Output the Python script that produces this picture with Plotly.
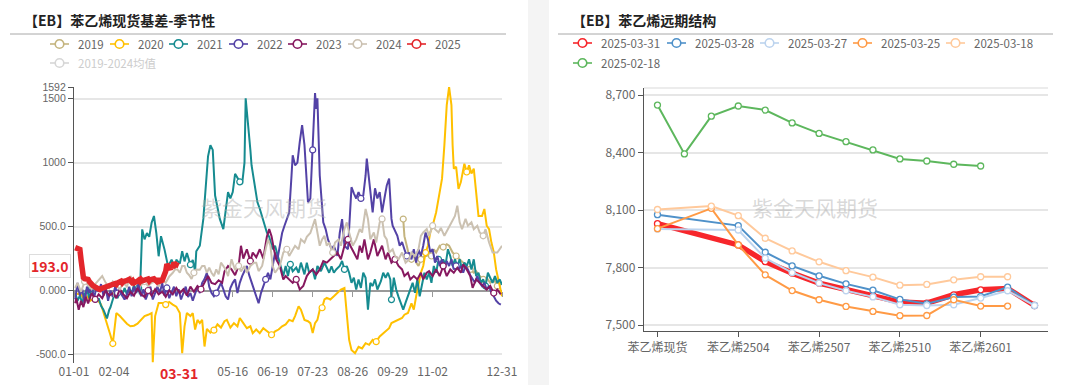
import pandas as pd
import plotly.graph_objects as go

# ----------------------------------------------------------------------------
# DATA  (left: styrene spot basis by season, (day-of-year offset, basis))
# ----------------------------------------------------------------------------
season_2019 = [(280, 559), (281, 425), (283, 350), (285, 270), (287, 244), (289, 297), (291, 218),
               (293, 192), (295, 244), (298, 270), (300, 270), (302, 297), (304, 270), (306, 323),
               (308, 297), (311, 350), (314, 340), (317, 362), (319, 350), (322, 297), (325, 270),
               (328, 244), (331, 218), (334, 192), (337, 165), (340, 139), (342, 152), (345, 113),
               (348, 87), (351, 100), (354, 60), (357, 87), (360, 35), (363, 50)]

season_2020 = [(2, -30), (5, -18), (8, -60), (11, -45), (14, -80), (17, -60), (20, -73), (23, -110),
               (26, -200), (28, -255), (31, -350), (33, -415), (35, -250), (36, -176), (39, -200),
               (42, -230), (45, -260), (48, -280), (51, -275), (54, -260), (57, -230), (60, -200),
               (63, -190), (66, -176), (67, -560), (69, -200), (72, -97), (75, -97), (78, -110),
               (81, -90), (84, -110), (87, -126), (90, -176), (92, -491), (94, -280), (96, -176),
               (99, -200), (101, -176), (103, -305), (105, -230), (107, -255), (109, -230),
               (111, -438), (113, -300), (116, -330), (119, -310), (122, -265), (125, -290),
               (128, -240), (130, -230), (133, -290), (136, -255), (139, -280), (141, -215),
               (144, -255), (147, -295), (150, -280), (152, -333), (155, -305), (158, -333),
               (161, -295), (164, -320), (168, -346), (171, -320), (174, -305), (177, -280),
               (180, -265), (183, -230), (186, -240), (188, -200), (191, -123), (193, -150),
               (196, -230), (199, -240), (201, -255), (203, -333), (205, -255), (207, -230),
               (209, -150), (211, -135), (213, -70), (215, -58), (218, -70), (221, -45), (224, -18),
               (227, 8), (230, 20), (232, -176), (234, -386), (236, -465), (239, -490), (242, -440),
               (245, -453), (248, -412), (251, -425), (254, -386), (257, -400), (260, -360),
               (263, -333), (266, -305), (268, -295), (270, -255), (273, -240), (276, -228),
               (279, -215), (281, -189), (284, -176), (287, -100), (289, -150), (291, -45), (293, 60),
               (295, 139), (297, 192), (299, 297), (301, 350), (303, 454), (305, 507), (308, 612),
               (311, 770), (313, 875), (315, 1137), (317, 1450), (319, 1592), (321, 1450),
               (322, 1137), (323, 953), (325, 968), (327, 795), (329, 848), (332, 992), (334, 927),
               (336, 980), (338, 915), (340, 953), (342, 770), (344, 583), (347, 583), (349, 638),
               (351, 507), (353, 480), (355, 375), (357, 300), (359, 165), (361, 87), (362, 35),
               (364, -45)]

season_2021 = [(1, -20), (3, -80), (5, -40), (7, -100), (9, -30), (11, 10), (13, -60), (15, 20),
               (17, -40), (19, -90), (21, -60), (23, -120), (25, -150), (28, -218), (30, -150),
               (31, -131), (33, -70), (35, -20), (37, -60), (39, -10), (41, -40), (43, 20), (45, -30),
               (47, 10), (49, -20), (51, 40), (53, -10), (55, 20), (56, -30), (58, 478), (60, 400),
               (62, 450), (64, 420), (66, 530), (68, 583), (70, 450), (72, 268), (74, 425), (77, 320),
               (80, 189), (83, 241), (86, 176), (87, 241), (90, 210), (92, 307), (94, 228), (96, 294),
               (99, 202), (101, 240), (103, 152), (104, 307), (107, 350), (110, 560), (112, 820),
               (114, 1050), (116, 1137), (118, 1100), (120, 743), (122, 640), (124, 560), (127, 480),
               (129, 620), (131, 770), (133, 720), (135, 770), (137, 913), (139, 880), (141, 850),
               (143, 835), (145, 1000), (146, 1504), (148, 1320), (150, 1100), (151, 980), (153, 850),
               (156, 690), (158, 640), (161, 540), (164, 454), (166, 420), (169, 323), (171, 350),
               (173, 280), (175, 231), (178, 113), (180, 192), (182, 113), (184, 205), (186, 150),
               (189, 180), (191, 139), (193, 218), (196, 126), (198, 218), (200, 140), (203, 165),
               (205, 87), (207, 192), (210, 152), (213, 218), (215, 178), (217, 139), (219, 190),
               (221, 139), (223, 165), (226, 192), (228, 231), (230, 165), (232, 192), (234, 139),
               (236, 60), (238, 100), (240, 8), (242, 87), (244, 20), (246, 139), (248, 100),
               (250, -150), (252, 60), (254, 35), (256, 87), (258, 8), (261, 73), (263, 139),
               (265, 100), (267, 139), (269, 87), (270, -71), (272, 100), (274, 8), (276, -50),
               (278, -100), (280, -150), (282, -95), (284, -45), (286, 8), (288, 60), (290, -18),
               (292, 87), (294, -45), (296, 60), (298, 139), (300, 87), (302, 139), (304, 60),
               (306, 192), (308, 139), (310, 244), (312, 192), (314, 244), (316, 200), (318, 323),
               (320, 270), (322, 192), (324, 244), (326, 192), (328, 244), (330, 165), (332, 218),
               (334, 192), (336, 244), (338, 165), (340, 244), (342, 113), (344, 139), (346, 60),
               (348, 87), (350, 35), (352, 139), (354, 100), (356, 60), (358, 113), (360, 60),
               (362, 87), (364, 45)]

season_2022 = [(1, -70), (3, 60), (5, -40), (7, 10), (9, -100), (11, 30), (13, -20), (15, 40),
               (17, -60), (19, 20), (21, -10), (23, 50), (25, -40), (27, 20), (29, -80), (31, 0),
               (33, -50), (35, 30), (37, -20), (39, 10), (41, -40), (43, -70), (45, -30), (47, 30),
               (49, -45), (51, 30), (53, -20), (55, 60), (57, -45), (59, 10), (61, -70), (63, -20),
               (65, 30), (67, -70), (69, -20), (71, 30), (73, -20), (75, 60), (77, -40), (79, 20),
               (81, -60), (83, -20), (85, 30), (87, -45), (89, 10), (91, -70), (93, -20), (95, 30),
               (97, -50), (99, -20), (101, -80), (103, -20), (105, 30), (107, -20), (109, 60),
               (111, 90), (113, 139), (115, 30), (117, -20), (119, -45), (121, -20), (123, 20),
               (125, 60), (127, 10), (129, -45), (131, -70), (133, 20), (135, 60), (137, 87),
               (139, -20), (141, 60), (143, 113), (145, 150), (147, 192), (149, 120), (151, 60),
               (153, 8), (155, -45), (157, -100), (159, -20), (161, 35), (163, 87), (165, 139),
               (167, 87), (169, 192), (171, 297), (173, 244), (175, 350), (177, 450), (179, 507),
               (181, 560), (183, 610), (185, 900), (186, 1058), (188, 980), (190, 1000), (192, 1163),
               (194, 1294), (196, 1140), (198, 874), (199, 690), (201, 720), (203, 1100), (205, 1544),
               (206, 1420), (207, 1504), (209, 900), (211, 600), (212, 533), (214, 480), (216, 400),
               (219, 323), (221, 350), (224, 270), (226, 450), (228, 559), (230, 350), (233, 323),
               (235, 600), (236, 808), (238, 760), (240, 720), (242, 770), (244, 720), (246, 743),
               (248, 900), (249, 1032), (251, 870), (252, 760), (254, 612), (256, 800), (258, 720),
               (260, 770), (262, 612), (264, 720), (266, 822), (268, 875), (270, 560), (271, 507),
               (273, 460), (275, 428), (277, 350), (279, 380), (281, 323), (283, 270), (285, 297),
               (287, 244), (289, 323), (291, 218), (293, 323), (295, 270), (297, 350), (299, 454),
               (301, 400), (303, 300), (305, 323), (307, 218), (309, 270), (311, 192), (313, 244),
               (315, 165), (317, 230), (319, 192), (321, 244), (323, 165), (325, 192), (327, 165),
               (329, 192), (331, 139), (333, 192), (335, 165), (337, 120), (339, 87), (341, 60),
               (343, 113), (345, 60), (347, 35), (349, 60), (351, 8), (353, 35), (355, -20),
               (357, -45), (359, -80), (361, -100), (363, -110)]

season_2023 = [(1, -100), (2, -60), (4, -150), (6, -80), (8, -130), (10, -50), (12, -100), (15, -20),
               (18, -70), (21, -30), (24, -60), (27, 0), (30, -40), (33, -20), (36, -60), (39, 10),
               (42, -30), (45, -60), (48, -10), (51, -40), (54, 20), (57, -30), (60, -50), (63, 0),
               (66, -40), (69, 10), (72, -30), (75, -10), (78, -50), (81, 0), (84, -30), (87, 20),
               (90, -20), (93, 10), (96, -40), (99, 30), (102, -10), (105, 35), (108, 10), (111, 60),
               (114, 113), (117, 60), (120, 50), (123, 80), (126, 60), (128, 150), (131, 192),
               (134, 165), (137, 120), (140, 192), (142, 350), (144, 250), (147, 323), (150, 230),
               (152, 297), (155, 260), (158, 323), (161, 250), (164, 420), (166, 480), (168, 425),
               (170, 323), (172, 244), (175, 192), (178, 87), (180, 113), (183, 87), (186, 60),
               (189, 87), (192, 8), (195, 35), (198, 113), (200, 139), (203, 165), (206, 126),
               (209, 165), (212, 231), (215, 218), (218, 244), (221, 270), (224, 297), (227, 244),
               (230, 350), (233, 400), (235, 350), (238, 297), (241, 244), (243, 350), (245, 297),
               (247, 400), (250, 244), (252, 297), (255, 400), (258, 270), (262, 350), (265, 244),
               (267, 297), (270, 218), (273, 244), (276, 192), (279, 165), (281, 113), (284, 139),
               (286, 87), (289, 113), (292, 87), (295, 139), (297, 87), (300, 139), (302, 152),
               (305, 113), (308, 165), (311, 113), (314, 192), (317, 113), (320, 165), (323, 139),
               (326, 178), (329, 139), (331, 205), (334, 165), (337, 113), (339, 21), (342, 87),
               (345, 60), (348, 35), (351, 8), (354, 35), (357, -20), (360, 8), (363, -30)]

season_2024 = [(1, 20), (3, 60), (6, -10), (9, 70), (12, 40), (15, 10), (18, 50), (21, 80), (24, 113),
               (27, 60), (30, 20), (33, 70), (36, 40), (39, 10), (42, 60), (45, 30), (48, 113),
               (51, 60), (54, 80), (57, 40), (60, 70), (63, 35), (66, 60), (69, 70), (72, 30),
               (75, 90), (78, 60), (81, 110), (84, 139), (86, 165), (88, 165), (90, 139), (92, 192),
               (94, 192), (96, 139), (98, 120), (100, 90), (102, 139), (104, 165), (107, 163),
               (109, 192), (111, 192), (113, 139), (115, 178), (117, 139), (119, 113), (121, 165),
               (123, 126), (125, 218), (127, 192), (129, 165), (131, 113), (134, 244), (137, 160),
               (140, 192), (142, 150), (145, 192), (147, 139), (150, 192), (153, 218), (155, 218),
               (157, 152), (160, 192), (163, 323), (165, 400), (167, 350), (169, 192), (171, 139),
               (173, 165), (175, 192), (178, 297), (181, 323), (183, 270), (186, 323), (188, 350),
               (191, 323), (193, 400), (196, 375), (198, 420), (201, 450), (203, 507), (205, 559),
               (207, 454), (209, 350), (211, 400), (213, 428), (215, 350), (217, 375), (220, 297),
               (222, 375), (225, 400), (227, 350), (230, 480), (232, 533), (234, 454), (237, 350),
               (240, 400), (243, 480), (245, 454), (248, 638), (250, 560), (252, 400), (255, 454),
               (257, 375), (260, 533), (262, 560), (264, 428), (266, 400), (268, 297), (271, 323),
               (273, 270), (276, 244), (279, 297), (282, 218), (285, 244), (287, 297), (290, 270),
               (293, 323), (295, 428), (297, 454), (300, 480), (302, 428), (305, 507), (307, 480),
               (310, 454), (312, 490), (315, 428), (318, 480), (321, 533), (324, 583), (326, 664),
               (328, 533), (330, 480), (333, 560), (335, 507), (338, 533), (340, 480), (343, 507),
               (345, 454), (348, 428), (350, 480), (353, 375), (356, 297), (358, 297), (360, 297),
               (362, 323), (364, 350)]

season_2025 = [(1, 336), (2, 330), (5, 322), (6, 240), (7, 120), (8, 100), (9, 92), (12, 87), (13, 70),
               (14, 55), (15, 45), (16, 40), (19, 21), (20, 15), (21, 10), (22, 8), (23, 15), (26, 25),
               (27, 34), (35, 55), (36, 48), (37, 60), (40, 73), (41, 60), (42, 70), (43, 80), (44, 75),
               (47, 87), (48, 70), (49, 66), (50, 75), (51, 60), (54, 73), (55, 80), (56, 70), (57, 85),
               (58, 75), (61, 87), (62, 80), (63, 90), (64, 75), (65, 85), (68, 92), (69, 80), (70, 75),
               (71, 95), (72, 70), (75, 80), (76, 100), (77, 139), (78, 150), (79, 205), (82, 165),
               (83, 200), (84, 175), (85, 218), (86, 205), (89, 193)]

season_names = ["2019", "2020", "2021", "2022", "2023", "2024", "2025"]
mean_name = "2019-2024均值"
x_tick_days = [0, 34, 135, 169, 203, 237, 271, 305, 364]
x_tick_text = ["01-01", "02-04", "05-16", "06-19", "07-23", "08-26", "09-29", "11-02", "12-31"]
y_tick_vals = [-500, 0, 500, 1000, 1500, 1592]
y_tick_text = ["-500.0", "0.000", "500.0", "1000", "1500", "1592"]
last_label = "193.0"
last_date_label = "03-31"

# ----------------------------------------------------------------------------
# DATA  (right: forward curve)
# ----------------------------------------------------------------------------
contracts = ["苯乙烯现货", "苯乙烯2502", "苯乙烯2503", "苯乙烯2504", "苯乙烯2505", "苯乙烯2506",
             "苯乙烯2507", "苯乙烯2508", "苯乙烯2509", "苯乙烯2510", "苯乙烯2511", "苯乙烯2512",
             "苯乙烯2601", "苯乙烯2602", "苯乙烯2603"]
curve_dates = ["2025-03-31", "2025-03-28", "2025-03-27", "2025-03-25", "2025-03-18", "2025-02-18"]
curve_0331 = [8029, None, None, 7918, 7831, 7771, 7719, 7684, 7653, 7620, 7614, 7658, 7684, 7691, 7602]
curve_0328 = [8076, None, None, 8019, 7880, 7809, 7757, 7715, 7682, 7634, 7611, 7646, 7649, 7698, 7602]
curve_0327 = [8001, None, None, 7996, 7849, 7774, 7719, 7679, 7647, 7606, 7602, 7606, 7641, 7679, 7602]
curve_0325 = [8003, None, 8109, 7918, 7762, 7680, 7632, 7597, 7571, 7549, 7550, 7632, 7599, 7599, None]
curve_0318 = [8103, None, 8121, 8071, 7953, 7887, 7830, 7784, 7750, 7708, 7712, 7736, 7752, 7752, None]
curve_0218 = [8648, 8393, 8590, 8643, 8622, 8555, 8500, 8457, 8414, 8367, 8356, 8339, 8330, None, None]
right_tick_idx = [0, 3, 6, 9, 12]
right_y_ticks = [7500, 7800, 8100, 8400, 8700]

# ----------------------------------------------------------------------------
# STYLE / LAYOUT
# ----------------------------------------------------------------------------
W, H = 1080, 385
FONT = "Noto Sans CJK SC"


def px(x):
    return x / W


def py(y):
    return 1 - y / H


BASE = pd.Timestamp("2021-01-01")


def to_dates(days):
    return [BASE + pd.Timedelta(days=int(d)) for d in days]


season_colors = ["#c4b47e", "#ffc000", "#168b90", "#5342a6", "#86185f", "#cbc1b1", "#e3262b"]
season_widths = [2, 2, 2, 2, 2, 2, 5.5]
curve_colors = ["#f7262b", "#4f91c9", "#bcd3ee", "#ff9a45", "#ffc99b", "#5db75d"]
curve_widths = [5.5, 2, 2, 2, 2, 2]

fig = go.Figure()

season_series = [season_2019, season_2020, season_2021, season_2022, season_2023, season_2024, season_2025]
for name, series, color, width in zip(season_names, season_series, season_colors, season_widths):
    days = [d for d, _ in series]
    vals = [v for _, v in series]
    fig.add_trace(go.Scatter(
        x=to_dates(days), y=vals, name=name, mode="lines+markers" if name != "2025" else "lines",
        line=dict(color=color, width=width),
        marker=dict(size=6, color="white", line=dict(color=color, width=1.2), maxdisplayed=9),
        xaxis="x", yaxis="y", showlegend=False, hoverinfo="skip"))

# helper axis to draw tick marks along the zero line
fig.add_trace(go.Scatter(x=to_dates([0]), y=[None], xaxis="x3", yaxis="y",
                         showlegend=False, hoverinfo="skip"))

curve_series = [curve_0331, curve_0328, curve_0327, curve_0325, curve_0318, curve_0218]
for name, series, color, width in zip(curve_dates, curve_series, curve_colors, curve_widths):
    fig.add_trace(go.Scatter(
        x=contracts, y=series, name=name, mode="lines+markers", connectgaps=True,
        line=dict(color=color, width=width),
        marker=dict(size=6, color="white", line=dict(color=color, width=1.3)),
        xaxis="x2", yaxis="y2", showlegend=False, hoverinfo="skip"))

tickfont = dict(family=FONT, size=12, color="#666666")
ytickfont = dict(family="Liberation Sans, Arial, sans-serif", size=10.5, color="#666666")
LX0, LX1, LY0, LY1 = 74, 502, 87, 363
RX0, RX1, RY0, RY1 = 644, 1048, 88, 331
left_range = [-567, 1592]
right_range = [7469, 8737]
zero_py = LY1 - (0 - left_range[0]) / (left_range[1] - left_range[0]) * (LY1 - LY0)

fig.update_layout(
    template="none",
    width=W, height=H, margin=dict(l=0, r=0, t=0, b=0, autoexpand=False),
    paper_bgcolor="white", plot_bgcolor="white", showlegend=False,
    xaxis=dict(domain=[px(LX0), px(LX1)], anchor="y", type="date", automargin=False,
               range=[to_dates([0])[0], to_dates([364])[0]],
               tickmode="array", tickvals=to_dates(x_tick_days), ticktext=x_tick_text,
               showgrid=False, showline=False, zeroline=False, ticks="", tickfont=tickfont),
    xaxis3=dict(overlaying="x", anchor="free", position=py(zero_py), type="date", automargin=False,
                range=[to_dates([0])[0], to_dates([364])[0]],
                tickmode="array", tickvals=to_dates(x_tick_days), ticks="outside", ticklen=5,
                tickcolor="#999999", showticklabels=False, showgrid=False, showline=False,
                zeroline=False),
    yaxis=dict(domain=[py(LY1), py(LY0)], anchor="x", range=left_range, automargin=False,
               tickmode="array", tickvals=y_tick_vals, ticktext=y_tick_text,
               showgrid=True, gridcolor="#e6e6e6", gridwidth=1.5,
               showline=True, linecolor="#555555", linewidth=1.3,
               ticks="outside", ticklen=5, tickcolor="#555555",
               zeroline=True, zerolinecolor="#999999", zerolinewidth=1.6, tickfont=ytickfont),
    xaxis2=dict(domain=[px(RX0), px(RX1)], anchor="y2", type="category", automargin=False,
                categoryorder="array", categoryarray=contracts, range=[-0.5, len(contracts) - 0.5],
                tickmode="array", tickvals=[contracts[i] for i in right_tick_idx],
                ticktext=[contracts[i] for i in right_tick_idx],
                showgrid=False, showline=True, linecolor="#555555", linewidth=1.3,
                ticks="outside", ticklen=5, tickcolor="#555555", tickfont=tickfont),
    yaxis2=dict(domain=[py(RY1), py(RY0)], anchor="x2", range=right_range, automargin=False,
                tickmode="array", tickvals=right_y_ticks, tickformat=",",
                showgrid=True, gridcolor="#e6e6e6", gridwidth=1.5,
                showline=True, linecolor="#555555", linewidth=1.3,
                ticks="outside", ticklen=5, tickcolor="#555555", zeroline=False, tickfont=tickfont),
)

shapes = []
annotations = []

# page background strip between the two cards
shapes.append(dict(type="rect", xref="paper", yref="paper", x0=px(528), x1=px(549), y0=0, y1=1,
                   fillcolor="#f4f4f4", line=dict(width=0), layer="below"))
# title underlines
for x0, x1 in [(10, 506), (558, 1053)]:
    shapes.append(dict(type="line", xref="paper", yref="paper", x0=px(x0), x1=px(x1),
                       y0=py(34), y1=py(34), line=dict(color="#a8a8a8", width=1)))
# top boundary of right plot
shapes.append(dict(type="line", xref="paper", yref="paper", x0=px(RX0), x1=px(RX1),
                   y0=py(RY0), y1=py(RY0), line=dict(color="#e6e6e6", width=1.5)))

# titles
for x, text in [(22, "【EB】苯乙烯现货基差-季节性"), (570, "【EB】苯乙烯远期结构")]:
    annotations.append(dict(xref="paper", yref="paper", x=px(x), y=py(20), xanchor="left",
                            yanchor="middle", showarrow=False, text="<b>%s</b>" % text,
                            font=dict(family=FONT, size=14, color="#222222")))

# watermarks
for cx in [264, 815]:
    annotations.append(dict(xref="paper", yref="paper", x=px(cx), y=py(207), xanchor="center",
                            yanchor="middle", showarrow=False, text="紫金天风期货",
                            font=dict(family=FONT, size=21, color="rgba(170,170,170,0.45)")))


def legend_item(x0, y, color, label, text_color="#666666"):
    shapes.append(dict(type="line", xref="paper", yref="paper", x0=px(x0), x1=px(x0 + 19),
                       y0=py(y), y1=py(y), line=dict(color=color, width=1.6)))
    cx = x0 + 9.5
    shapes.append(dict(type="circle", xref="paper", yref="paper", x0=px(cx - 4.3), x1=px(cx + 4.3),
                       y0=py(y + 4.3), y1=py(y - 4.3), fillcolor="white",
                       line=dict(color=color, width=1.6)))
    annotations.append(dict(xref="paper", yref="paper", x=px(x0 + 26), y=py(y), xanchor="left",
                            yanchor="middle", showarrow=False, text=label,
                            font=dict(family=FONT, size=11.5, color=text_color)))


left_leg_x = [50, 110, 169, 229, 288, 348, 407]
for x0, name, color in zip(left_leg_x, season_names, season_colors):
    legend_item(x0, 44, color, name)
legend_item(50, 63, "#d6d6d6", mean_name, text_color="#cccccc")

right_leg_x = [573, 667, 760, 853, 946]
for x0, name, color in zip(right_leg_x, curve_dates[:5], curve_colors[:5]):
    legend_item(x0, 43, color, name)
legend_item(573, 63, curve_colors[5], curve_dates[5])

# last value label on the left y axis and last date label on the x axis
last_val = season_2025[-1][1]
annotations.append(dict(xref="paper", yref="y", x=px(50), y=last_val, xanchor="center",
                        yanchor="middle", showarrow=False, text="<b>%s</b>" % last_label,
                        font=dict(family=FONT, size=14, color="#e3262b"), bgcolor="white",
                        bordercolor="#dddddd", borderwidth=1, borderpad=1))
annotations.append(dict(xref="x", yref="paper", x=to_dates([season_2025[-1][0]])[0], y=py(373),
                        xanchor="center", yanchor="middle", showarrow=False,
                        text="<b>%s</b>" % last_date_label,
                        font=dict(family=FONT, size=14, color="#e3262b"), bgcolor="white",
                        borderpad=1))

fig.update_layout(shapes=shapes, annotations=annotations)
fig.write_html("out.html", config={"displayModeBar": False},
               post_script="document.body.style.margin='0px';document.body.style.overflow='hidden';")
